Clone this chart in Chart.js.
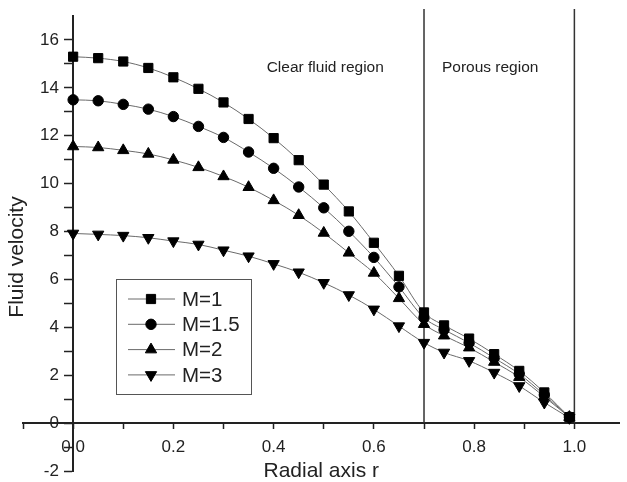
<!DOCTYPE html>
<html>
<head>
<meta charset="utf-8">
<script src="https://cdn.jsdelivr.net/npm/chart.js"></script>
<style>
  body { margin: 0; background: #fff; }
  #wrap { width: 627px; height: 482px; }
</style>
</head>
<body>
<div id="wrap"><canvas id="velocidade"></canvas></div>
<script>
// radial positions of the computed points
const raio = [0, 0.05, 0.1, 0.15, 0.2, 0.25, 0.3, 0.35, 0.4, 0.45, 0.5, 0.55, 0.6, 0.65, 0.7,
              0.74, 0.79, 0.84, 0.89, 0.94, 0.99];

const m1  = [15.30, 15.24, 15.10, 14.83, 14.44, 13.96, 13.39, 12.70, 11.90, 10.98, 9.96, 8.84, 7.53, 6.15, 4.62,
             4.08, 3.53, 2.88, 2.18, 1.28, 0.25];
const m15 = [13.50, 13.46, 13.31, 13.11, 12.80, 12.39, 11.93, 11.32, 10.64, 9.86, 8.99, 8.01, 6.92, 5.69, 4.40,
             3.90, 3.35, 2.72, 2.05, 1.18, 0.25];
const m2  = [11.55, 11.51, 11.39, 11.24, 10.99, 10.68, 10.30, 9.85, 9.30, 8.68, 7.94, 7.11, 6.27, 5.21, 4.13,
             3.65, 3.15, 2.55, 1.92, 1.10, 0.25];
const m3  = [7.92, 7.88, 7.83, 7.74, 7.60, 7.46, 7.22, 6.97, 6.65, 6.30, 5.86, 5.35, 4.75, 4.05, 3.36,
             2.95, 2.60, 2.11, 1.55, 0.86, 0.22];

const rotulos = ['M=1', 'M=1.5', 'M=2', 'M=3'];

// region boundaries (r) and region names
const fronteiras = [0.7, 1.0];
const regioes = ['Clear fluid region', 'Porous region'];

const xTicks = [-0.1, 0, 0.1, 0.2, 0.3, 0.4, 0.5, 0.6, 0.7, 0.8, 0.9, 1.0];
const xMajor = [0, 0.2, 0.4, 0.6, 0.8, 1.0];
const yTicks = [-2, -1, 0, 1, 2, 3, 4, 5, 6, 7, 8, 9, 10, 11, 12, 13, 14, 15, 16];
const yMajor = [-2, 0, 2, 4, 6, 8, 10, 12, 14, 16];

const FONTE = "'Liberation Sans', Arial, sans-serif";

const pontos = [
  {style: 'rect', radius: 6.5, rot: 0},
  {style: 'circle', radius: 5.2, rot: 0},
  {style: 'triangle', radius: 6.5, rot: 0},
  {style: 'triangle', radius: 6.5, rot: 180}
];

const series = [m1, m15, m2, m3].map((s, i) => ({
  label: rotulos[i],
  data: s.map((v, k) => ({x: raio[k], y: v})),
  borderColor: '#6a6a6a',
  borderWidth: 1,
  backgroundColor: '#000',
  pointBackgroundColor: '#000',
  pointBorderColor: '#000',
  pointBorderWidth: 1,
  pointStyle: pontos[i].style,
  pointRadius: pontos[i].radius,
  pointRotation: pontos[i].rot,
  cubicInterpolationMode: 'monotone',
  tension: 0.3
}));

const linhas = fronteiras.map(b => ({
  label: 'limite',
  data: [{x: b, y: 0}, {x: b, y: 17.29}],
  borderColor: '#333',
  borderWidth: 1.5,
  pointRadius: 0,
  clip: false
}));

const extras = {
  id: 'extras',
  afterDraw(chart) {
    const ctx = chart.ctx;
    const xs = chart.scales.x, ys = chart.scales.y;
    ctx.save();
    ctx.fillStyle = '#222';
    ctx.textAlign = 'center';
    ctx.textBaseline = 'middle';

    // region names
    ctx.font = '15.5px ' + FONTE;
    ctx.fillText(regioes[0], xs.getPixelForValue(0.503), ys.getPixelForValue(14.82));
    ctx.fillText(regioes[1], xs.getPixelForValue(0.832), ys.getPixelForValue(14.82));

    // y title
    ctx.save();
    ctx.translate(17, 257);
    ctx.rotate(-Math.PI / 2);
    ctx.font = '21px ' + FONTE;
    ctx.fillText('Fluid velocity', 0, 0);
    ctx.restore();

    // legend box
    ctx.strokeStyle = '#555';
    ctx.lineWidth = 1;
    ctx.strokeRect(116.5, 279.5, 135, 115);
    ctx.textAlign = 'left';
    ctx.font = '20.5px ' + FONTE;
    for (let i = 0; i < 4; i++) {
      const yy = 299 + i * 25.3;
      ctx.strokeStyle = '#6a6a6a';
      ctx.beginPath();
      ctx.moveTo(128, yy);
      ctx.lineTo(175, yy);
      ctx.stroke();
      ctx.fillStyle = '#000';
      ctx.strokeStyle = '#000';
      Chart.helpers.drawPoint(ctx, {
        pointStyle: pontos[i].style,
        radius: pontos[i].radius,
        rotation: pontos[i].rot,
        borderWidth: 1
      }, 151, yy);
      ctx.fillStyle = '#222';
      ctx.fillText(rotulos[i], 182, yy + 1);
    }
    ctx.restore();
  }
};

new Chart(document.getElementById('velocidade'), {
  type: 'line',
  data: { datasets: series.concat(linhas) },
  options: {
    responsive: true,
    maintainAspectRatio: false,
    animation: false,
    layout: { padding: { left: 23, top: 16, right: 1, bottom: 11 } },
    plugins: { legend: { display: false }, tooltip: { enabled: false } },
    scales: {
      x: {
        type: 'linear',
        position: { y: 0 },
        min: -0.1,
        max: 1.09,
        afterBuildTicks: s => { s.ticks = xTicks.map(v => ({value: v})); },
        grid: { drawOnChartArea: false, tickLength: 5, tickColor: '#222', tickWidth: 1.5 },
        border: { color: '#222', width: 2 },
        ticks: {
          padding: 9,
          color: '#222',
          font: { size: 17, family: FONTE },
          maxRotation: 0,
          autoSkip: false,
          callback: v => xMajor.some(m => Math.abs(m - v) < 1e-6) ? v.toFixed(1) : ''
        },
        title: {
          display: true,
          text: 'Radial axis r',
          color: '#222',
          font: { size: 21, family: FONTE },
          padding: { top: -8, bottom: 0 }
        }
      },
      y: {
        type: 'linear',
        position: { x: 0 },
        min: -2,
        max: 17,
        afterBuildTicks: s => { s.ticks = yTicks.map(v => ({value: v})); },
        grid: { drawOnChartArea: false, tickLength: 8, tickColor: '#222', tickWidth: 1.5 },
        border: { color: '#222', width: 2 },
        ticks: {
          padding: 0,
          color: '#222',
          font: { size: 17, family: FONTE },
          autoSkip: false,
          // labels sit on the axis line when it is centred; trailing spaces clear the tick marks
          callback: v => yMajor.includes(v) ? String(v) + '   ' : ''
        }
      }
    }
  },
  plugins: [extras]
});
</script>
</body>
</html>
